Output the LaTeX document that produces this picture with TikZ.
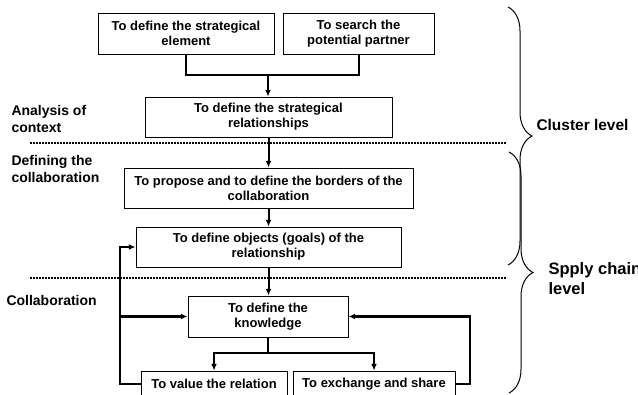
\documentclass[tikz,border=0pt]{standalone}
\usepackage{fontspec}
\setmainfont{Liberation Sans}
\usetikzlibrary{arrows.meta,decorations.pathreplacing}

\tikzset{every picture/.style={line width=0.75pt}}
\tikzset{
  stepbox/.style={draw, align=center, inner sep=0.75pt, font=\fontsize{9.75}{11.25}\selectfont\bfseries},
  link/.style={line width=1.5pt},
  flow/.style={line width=1.5pt, -{Latex[length=5pt,width=4.5pt]}},
  back/.style={line width=2pt, -{Latex[length=5pt,width=4.5pt]}},
  sep/.style={line width=1.1pt, dash pattern=on 1.5pt off 0.75pt},
  phase/.style={anchor=north west, align=left, inner sep=0.75pt, font=\fontsize{10.5}{12.75}\selectfont\bfseries},
  level/.style={anchor=north west, align=left, inner sep=0.75pt, font=\fontsize{11.6}{15}\selectfont\bfseries},
  curly/.style={decorate, decoration={brace, amplitude=18pt}},
}

\begin{document}
\begin{tikzpicture}[x=0.75pt,y=0.75pt,yscale=-1,xscale=1]
\clip (0,0) rectangle (638,394);

%Shape: Boxes of the steps
\node[stepbox, minimum width=132pt, minimum height=30.75pt] (elem) at (186,33.5) {To define the strategical\\element};
\node[stepbox, minimum width=113.25pt, minimum height=30.75pt] (partner) at (358.5,33.5) {To search the\\potential partner};
\node[stepbox, minimum width=185.25pt, minimum height=30pt] (rel) at (268.5,117) {To define the strategical\\relationships};
\node[stepbox, minimum width=216.75pt, minimum height=30pt] (prop) at (268.5,188) {To propose and to define the borders of the\\collaboration};
\node[stepbox, minimum width=198.75pt, minimum height=30pt] (obj) at (268.5,247) {To define objects (goals) of the\\relationship};
\node[stepbox, minimum width=120pt, minimum height=30.75pt] (know) at (268,316.5) {To define the\\knowledge};
\node[stepbox, minimum width=109.5pt, minimum height=19.5pt] (value) at (214,384) {To value the relation};
\node[stepbox, minimum width=121.5pt, minimum height=19.5pt] (exch) at (374,384) {To exchange and share};

%Straight Lines: joining the first two steps
\coordinate (jn) at (268,75);
\draw[link] (elem.south) |- (jn) -| (partner.south);
\draw[flow] (jn) -- (jn |- rel.north);
\draw[flow] (rel.south) -- (rel.south |- prop.north);
\draw[flow] (prop.south) -- (prop.south |- obj.north);
\draw[flow] (obj.south) -- (obj.south |- know.north);

%Straight Lines: split below the knowledge
\coordinate (split) at (268,353);
\draw[link] (know.south) -- (split);
\draw[flow] (split) -| (value.north);
\draw[flow] (split) -| (exch.north);

%Straight Lines: feedback loops
\coordinate (lb) at (120,384);
\coordinate (rb) at (470,384);
\draw[back] (value.west) -- (lb) |- (obj.west);
\draw[back] (lb |- know.west) -- (know.west);
\draw[back] (exch.east) -- (rb) |- (know.east);

%Dashed Lines: phase borders
\coordinate (s1a) at (30,143);
\coordinate (s1b) at (507,143);
\coordinate (s2a) at (30,278);
\coordinate (s2b) at (507,278);
\draw[sep] (s1a) -- (s1b);
\draw[sep] (s2a) -- (s2b);

% Text Node
\node[phase] (analysis) at (10,104) {Analysis of\\context};
% Text Node
\node[phase] (defining) at (10,154) {Defining the\\collaboration};
% Text Node
\node[phase] (collab) at (5,294) {Collaboration};

%Braces
\coordinate (b1a) at (508,7);
\coordinate (b1b) at (508,265);
\coordinate (b2a) at (509,152);
\coordinate (b2b) at (509,393);
\draw[curly] (b1a) -- (b1b);
\draw[curly] (b2a) -- (b2b);

% Text Node
\node[level, anchor=west] (cluster) at (535,125) {Cluster level};
% Text Node
\node[level, font=\fontsize{12.4}{15}\selectfont\bfseries] (chain) at (547,261) {Spply chain\\level};
\end{tikzpicture}
\end{document}
